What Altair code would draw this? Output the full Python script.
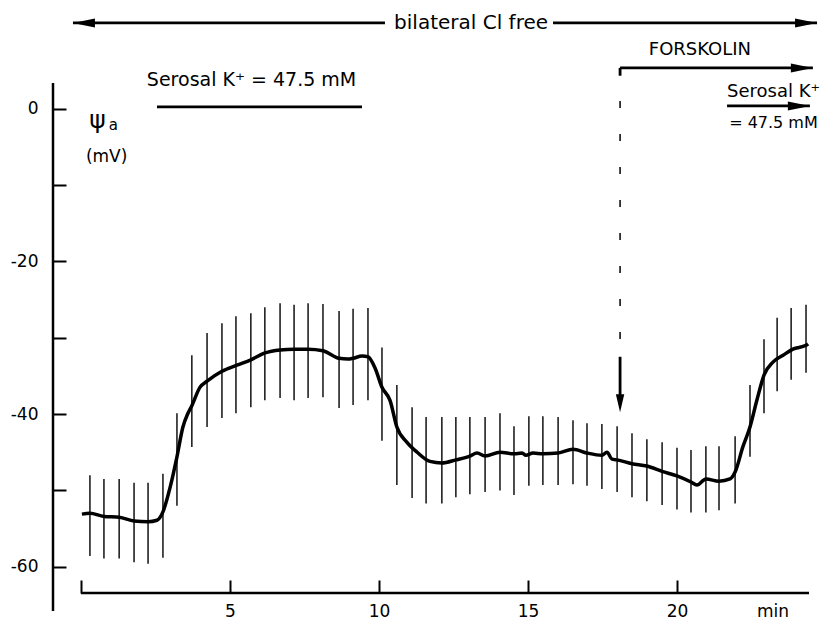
import altair as alt
import pandas as pd

# ---- mean trace (time in min, potential in mV) ----
line_t = [0.03, 0.30, 0.77, 1.28, 1.78, 2.25, 2.55, 2.75, 2.99, 3.22,
          3.42, 3.59, 3.72, 3.99, 4.23, 4.73, 5.23, 5.70, 6.17, 6.68,
          7.15, 7.62, 8.12, 8.66, 8.96, 9.13, 9.43, 9.63, 9.87, 10.10,
          10.37, 10.60, 10.94, 11.28, 11.71, 12.11, 12.58, 13.05, 13.29, 13.56,
          14.06, 14.53, 14.80, 14.93, 15.17, 15.50, 16.01, 16.51, 16.98, 17.48,
          17.65, 17.82, 17.99, 18.49, 18.99, 19.50, 20.00, 20.47, 20.67, 20.97,
          21.41, 21.78, 21.95, 22.21, 22.45, 22.68, 22.92, 23.22, 23.56, 23.89,
          24.33, 24.40]
line_v = [-53.1, -53.0, -53.4, -53.5, -54.0, -54.1, -53.9, -52.8, -49.6, -45.6,
          -41.7, -39.9, -38.9, -36.5, -35.7, -34.4, -33.6, -32.9, -32.0, -31.6,
          -31.5, -31.5, -31.7, -32.7, -32.8, -32.7, -32.4, -32.5, -34.0, -36.5,
          -38.2, -41.7, -43.7, -45.0, -46.2, -46.4, -46.0, -45.5, -45.1, -45.5,
          -45.0, -45.2, -45.1, -45.4, -45.1, -45.2, -45.1, -44.6, -45.1, -45.4,
          -45.0, -45.9, -46.0, -46.5, -46.8, -47.5, -48.1, -48.9, -49.3, -48.5,
          -48.8, -48.5, -47.6, -44.3, -41.7, -38.2, -34.9, -33.2, -32.3, -31.5,
          -31.0, -30.8]

# ---- error bars ----
bar_t = [0.30, 0.77, 1.28, 1.78, 2.25, 2.75, 3.22, 3.72, 4.23, 4.73,
         5.20, 5.70, 6.17, 6.68, 7.15, 7.62, 8.12, 8.66, 9.13, 9.63,
         10.10, 10.60, 11.11, 11.58, 12.11, 12.58, 13.05, 13.56, 14.06, 14.53,
         15.03, 15.50, 16.01, 16.51, 16.98, 17.48, 17.99, 18.49, 18.99, 19.50,
         20.00, 20.47, 20.97, 21.41, 21.95, 22.45, 22.92, 23.36, 23.83, 24.33]
bar_hi = [-48.0, -48.5, -48.5, -49.0, -49.0, -47.8, -39.9, -32.3, -29.4, -28.1,
          -27.2, -26.8, -26.0, -25.5, -25.7, -25.5, -25.6, -26.5, -26.2, -26.1,
          -31.3, -36.2, -39.1, -40.4, -40.4, -40.4, -40.4, -40.4, -39.9, -41.6,
          -40.3, -40.3, -40.4, -40.8, -41.2, -41.3, -41.6, -42.5, -43.3, -43.7,
          -44.4, -44.7, -44.2, -44.2, -42.9, -36.2, -30.2, -27.4, -26.1, -25.7]
bar_lo = [-58.6, -58.9, -58.9, -59.4, -59.6, -58.8, -52.0, -44.3, -41.7, -40.5,
          -39.9, -39.1, -38.2, -37.9, -38.2, -37.9, -37.8, -39.2, -38.8, -38.2,
          -43.5, -49.3, -51.0, -51.7, -51.7, -50.9, -50.5, -50.2, -50.0, -50.6,
          -49.4, -49.3, -49.3, -49.2, -49.4, -49.8, -50.2, -50.9, -51.4, -51.9,
          -52.5, -52.9, -52.9, -52.6, -51.7, -45.6, -39.9, -37.0, -35.5, -34.6]

x_ticks = [0, 5, 10, 15, 20]
y_ticks = [-60, -50, -40, -30, -20, -10, 0]
X_DOMAIN = [0, 24.43]
Y_DOMAIN = [-63.43, 3.35]

# ---- annotation geometry in data units ----
seg_x1 = [-0.27, 15.84, 2.55, 18.09, 21.68, 18.09, 18.09]
seg_x2 = [10.20, 24.70, 9.43, 24.56, 24.46, 18.09, 18.09]
seg_y1 = [11.22, 11.22, 0.22, 5.33, 0.35, 5.33, -32.5]
seg_y2 = [11.22, 11.22, 0.22, 5.33, 0.35, 4.30, -38.0]

dash_x = [18.09]
dash_y1 = [5.33]
dash_y2 = [-32.5]

LEFT = "M 0 0 L 2.2 -0.45 L 2.2 0.45 Z"
RIGHT = "M 0 0 L -2.2 -0.45 L -2.2 0.45 Z"
DOWN = "M 0 0 L -0.42 -1.8 L 0.42 -1.8 Z"
head_t = [-0.27, 24.70, 24.56, 24.46, 18.09]
head_v = [11.22, 11.22, 5.33, 0.35, -39.75]
head_shape = [LEFT, RIGHT, RIGHT, RIGHT, DOWN]

ctext_label = ["bilateral Cl free", "FORSKOLIN", "\u03c8", "(mV)", "min"]
ctext_t = [13.09, 20.77, 0.55, 0.86, 23.22]
ctext_v = [11.22, 7.69, -1.5, -6.33, -65.9]
ctext_fs = [20, 18, 25, 17, 17]

ltext_label = ["Serosal K\u207a = 47.5 mM", "Serosal K\u207a", "= 47.5 mM", "a"]
ltext_t = [2.21, 21.68, 21.75, 0.93]
ltext_v = [3.76, 2.17, -1.87, -2.1]
ltext_fs = [19, 18, 16, 15]

# ---- frames ----
line_df = pd.DataFrame({"t": line_t, "v": line_v})
bars_df = pd.DataFrame({"t": bar_t, "hi": bar_hi, "lo": bar_lo})
seg_df = pd.DataFrame({"x1": seg_x1, "x2": seg_x2, "y1": seg_y1, "y2": seg_y2})
dash_df = pd.DataFrame({"x1": dash_x, "y1": dash_y1, "y2": dash_y2})
head_df = pd.DataFrame({"t": head_t, "v": head_v, "shape": head_shape})
ctext_df = pd.DataFrame({"t": ctext_t, "v": ctext_v, "label": ctext_label, "fs": ctext_fs})
ltext_df = pd.DataFrame({"t": ltext_t, "v": ltext_v, "label": ltext_label, "fs": ltext_fs})
xline_df = pd.DataFrame({"x1": [X_DOMAIN[0]], "x2": [X_DOMAIN[1]], "y1": [Y_DOMAIN[0]]})
yline_df = pd.DataFrame({"y1": [Y_DOMAIN[1]], "y2": [-65.8]})

xs = alt.Scale(domain=X_DOMAIN, nice=False, zero=False)
ys = alt.Scale(domain=Y_DOMAIN, nice=False, zero=False)

FONT = "DejaVu Sans"
x_axis = alt.Axis(values=x_ticks, orient="bottom", offset=-13, tickSize=13, tickWidth=2,
                  tickColor="black", domain=False, grid=False, title=None,
                  labelExpr="datum.value == 0 ? '' : datum.label", labelPadding=10,
                  labelFontSize=17, labelFont=FONT, labelColor="black",
                  labelOverlap=False, labelFlush=False)
y_axis = alt.Axis(values=y_ticks, orient="left", offset=15, tickSize=13, tickWidth=2,
                  tickColor="black", domain=False, grid=False, title=None,
                  labelExpr="datum.value % 20 == 0 ? (datum.value < 0 ? '-' + toString(-datum.value) : '0') : ''",
                  labelPadding=15, labelFontSize=17, labelFont=FONT, labelColor="black",
                  labelOverlap=False)


def X(field):
    return alt.X(field, type="quantitative", scale=xs, axis=x_axis)


def Y(field):
    return alt.Y(field, type="quantitative", scale=ys, axis=y_axis)


bars = alt.Chart(bars_df).mark_rule(color="black", strokeWidth=1.4).encode(
    x=X("t"), y=Y("hi"), y2="lo:Q",
)

trace = alt.Chart(line_df).mark_line(color="black", strokeWidth=3.5, interpolate="monotone").encode(
    x=X("t"), y=Y("v"),
)

xline = alt.Chart(xline_df).mark_rule(color="black", strokeWidth=2.5).encode(
    x=X("x1"), x2="x2:Q", y=Y("y1"),
)
yline = alt.Chart(yline_df).mark_rule(color="black", strokeWidth=2.5).encode(
    x=alt.value(-28), y=Y("y1"), y2="y2:Q",
)

segs = alt.Chart(seg_df).mark_rule(color="black", strokeWidth=2.8).encode(
    x=X("x1"), x2="x2:Q", y=Y("y1"), y2="y2:Q",
)
dash = alt.Chart(dash_df).mark_rule(color="black", strokeWidth=1.5, strokeDash=[7, 26]).encode(
    x=X("x1"), y=Y("y1"), y2="y2:Q",
)
heads = alt.Chart(head_df).mark_point(filled=True, color="black", opacity=1, strokeWidth=0).encode(
    x=X("t"), y=Y("v"),
    shape=alt.Shape("shape:N", scale=None, legend=None),
    size=alt.value(400),
)
ctext = alt.Chart(ctext_df).mark_text(align="center", baseline="middle", color="black", font=FONT).encode(
    x=X("t"), y=Y("v"),
    text="label:N",
    size=alt.Size("fs:Q", scale=None, legend=None),
)
ltext = alt.Chart(ltext_df).mark_text(align="left", baseline="middle", color="black", font=FONT).encode(
    x=X("t"), y=Y("v"),
    text="label:N",
    size=alt.Size("fs:Q", scale=None, legend=None),
)

chart = alt.layer(bars, trace, xline, yline, segs, dash, heads, ctext, ltext).properties(
    width=728, height=510,
    padding={"left": 73, "top": 75, "right": 19, "bottom": 31},
    autosize="none",
).configure(font=FONT).configure_view(strokeWidth=0)

chart.save("out.html", embed_options={"renderer": "svg", "actions": False})
